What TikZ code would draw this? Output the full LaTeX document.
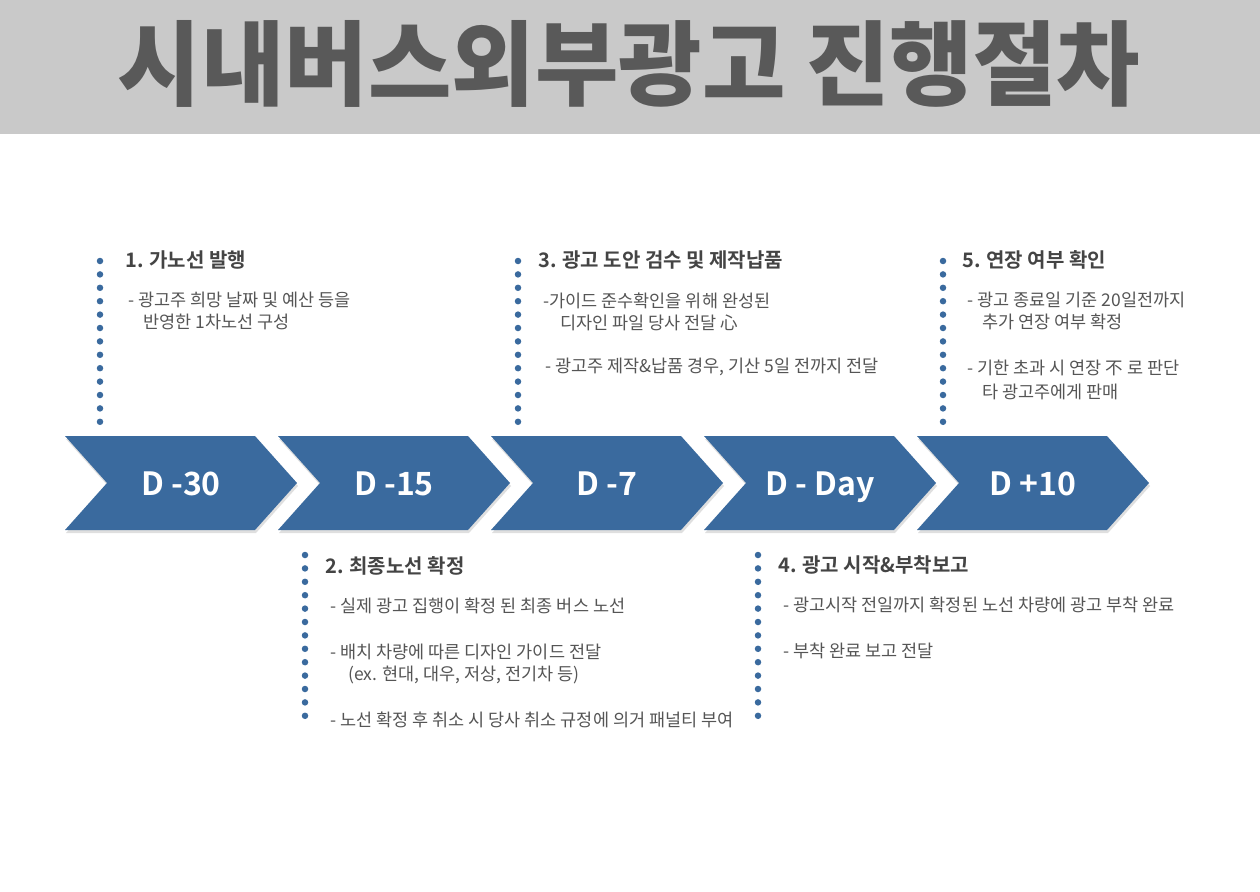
\documentclass[tikz,border=0pt]{standalone}
\usepackage{fontspec}
\usepackage{graphicx}
\setmainfont{Noto Sans CJK KR}[BoldFont=* Bold]
\newfontfamily\heavyfont{Noto Sans CJK KR Black}
\usetikzlibrary{shadows}
\definecolor{c1}{HTML}{3A6A9E}
\definecolor{c2}{HTML}{C9C9C9}
\definecolor{c3}{HTML}{595959}
\definecolor{c4}{HTML}{444444}
\definecolor{c5}{HTML}{555555}

\begin{document}
\begin{tikzpicture}[x=1pt, y=-1pt,
            chev/.style={fill=c1, drop shadow={shadow xshift=1pt, shadow yshift=-3pt, opacity=0.25}},
            day/.style={anchor=base, text=white, font=\bfseries\fontsize{32}{32}\selectfont},
            head/.style={anchor=west, inner sep=0, text=c4, font=\bfseries\fontsize{20}{20}\selectfont},
            txt/.style={anchor=west, inner sep=0, text=c5, font=\fontsize{17.5}{17.5}\selectfont},
            dots/.style={c1, line width=6.5pt, line cap=round, dash pattern=on 0pt off 13.4pt}]
            \useasboundingbox[fill=white] (0,0) rectangle (1260,891);
            \fill[c2] (0,0) rectangle (1260,134);
            \node[text=c3] (title) at (629,64) {\resizebox{1022pt}{78pt}{\heavyfont 시내버스외부광고 진행절차}};
            % chevrons
            \foreach \x/\n/\t in {65/d30/{D -30}, 278/d15/{D -15}, 491/d7/{D -7}, 704/dday/{D - Day}, 917/d10/{D +10}} {
                \fill[chev] (\x,436) -- ++(190,0) -- ++(42,47) -- ++(-42,47) -- ++(-190,0) -- ++(42,-47) -- cycle;
                \node[day] (\n) at (\x+116,495) {\t};
            }
            % dotted guides
            \draw[dots] (100,261) coordinate(top1) -- (100,423) coordinate(bot1);
            \draw[dots] (518,261) coordinate(top3) -- (518,423) coordinate(bot3);
            \draw[dots] (943,261) coordinate(top5) -- (943,423) coordinate(bot5);
            \draw[dots] (305,555) coordinate(top2) -- (305,718) coordinate(bot2);
            \draw[dots] (758,555) coordinate(top4) -- (758,718) coordinate(bot4);
            % steps above
            \node[head] (h1) at (125,260) {1. 가노선 발행};
            \node[txt] (t1a) at (128,300) {- 광고주 희망 날짜 및 예산 등을};
            \node[txt] (t1b) at (143,322) {반영한 1차노선 구성};
            \node[head] (h3) at (538,260) {3. 광고 도안 검수 및 제작납품};
            \node[txt] (t3a) at (543,301) {-가이드 준수확인을 위해 완성된};
            \node[txt] (t3b) at (560,323) {디자인 파일 당사 전달 心};
            \node[txt] (t3c) at (545,367) {- 광고주 제작\&납품 경우, 기산 5일 전까지 전달};
            \node[head] (h5) at (962,260) {5. 연장 여부 확인};
            \node[txt] (t5a) at (967,300) {- 광고 종료일 기준 20일전까지};
            \node[txt] (t5b) at (982,322) {추가 연장 여부 확정};
            \node[txt] (t5c) at (967,368) {- 기한 초과 시 연장 不 로 판단};
            \node[txt] (t5d) at (982,392) {타 광고주에게 판매};
            % steps below
            \node[head] (h2) at (325,566) {2. 최종노선 확정};
            \node[txt] (t2a) at (330,606) {- 실제 광고 집행이 확정 된 최종 버스 노선};
            \node[txt] (t2b) at (330,652) {- 배치 차량에 따른 디자인 가이드 전달};
            \node[txt] (t2c) at (348,675) {(ex. 현대, 대우, 저상, 전기차 등)};
            \node[txt] (t2d) at (330,720) {- 노선 확정 후 취소 시 당사 취소 규정에 의거 패널티 부여};
            \node[head] (h4) at (778,565) {4. 광고 시작\&부착보고};
            \node[txt] (t4a) at (783,605) {- 광고시작 전일까지 확정된 노선 차량에 광고 부착 완료};
            \node[txt] (t4b) at (783,651) {- 부착 완료 보고 전달};
        \end{tikzpicture}
\end{document}
